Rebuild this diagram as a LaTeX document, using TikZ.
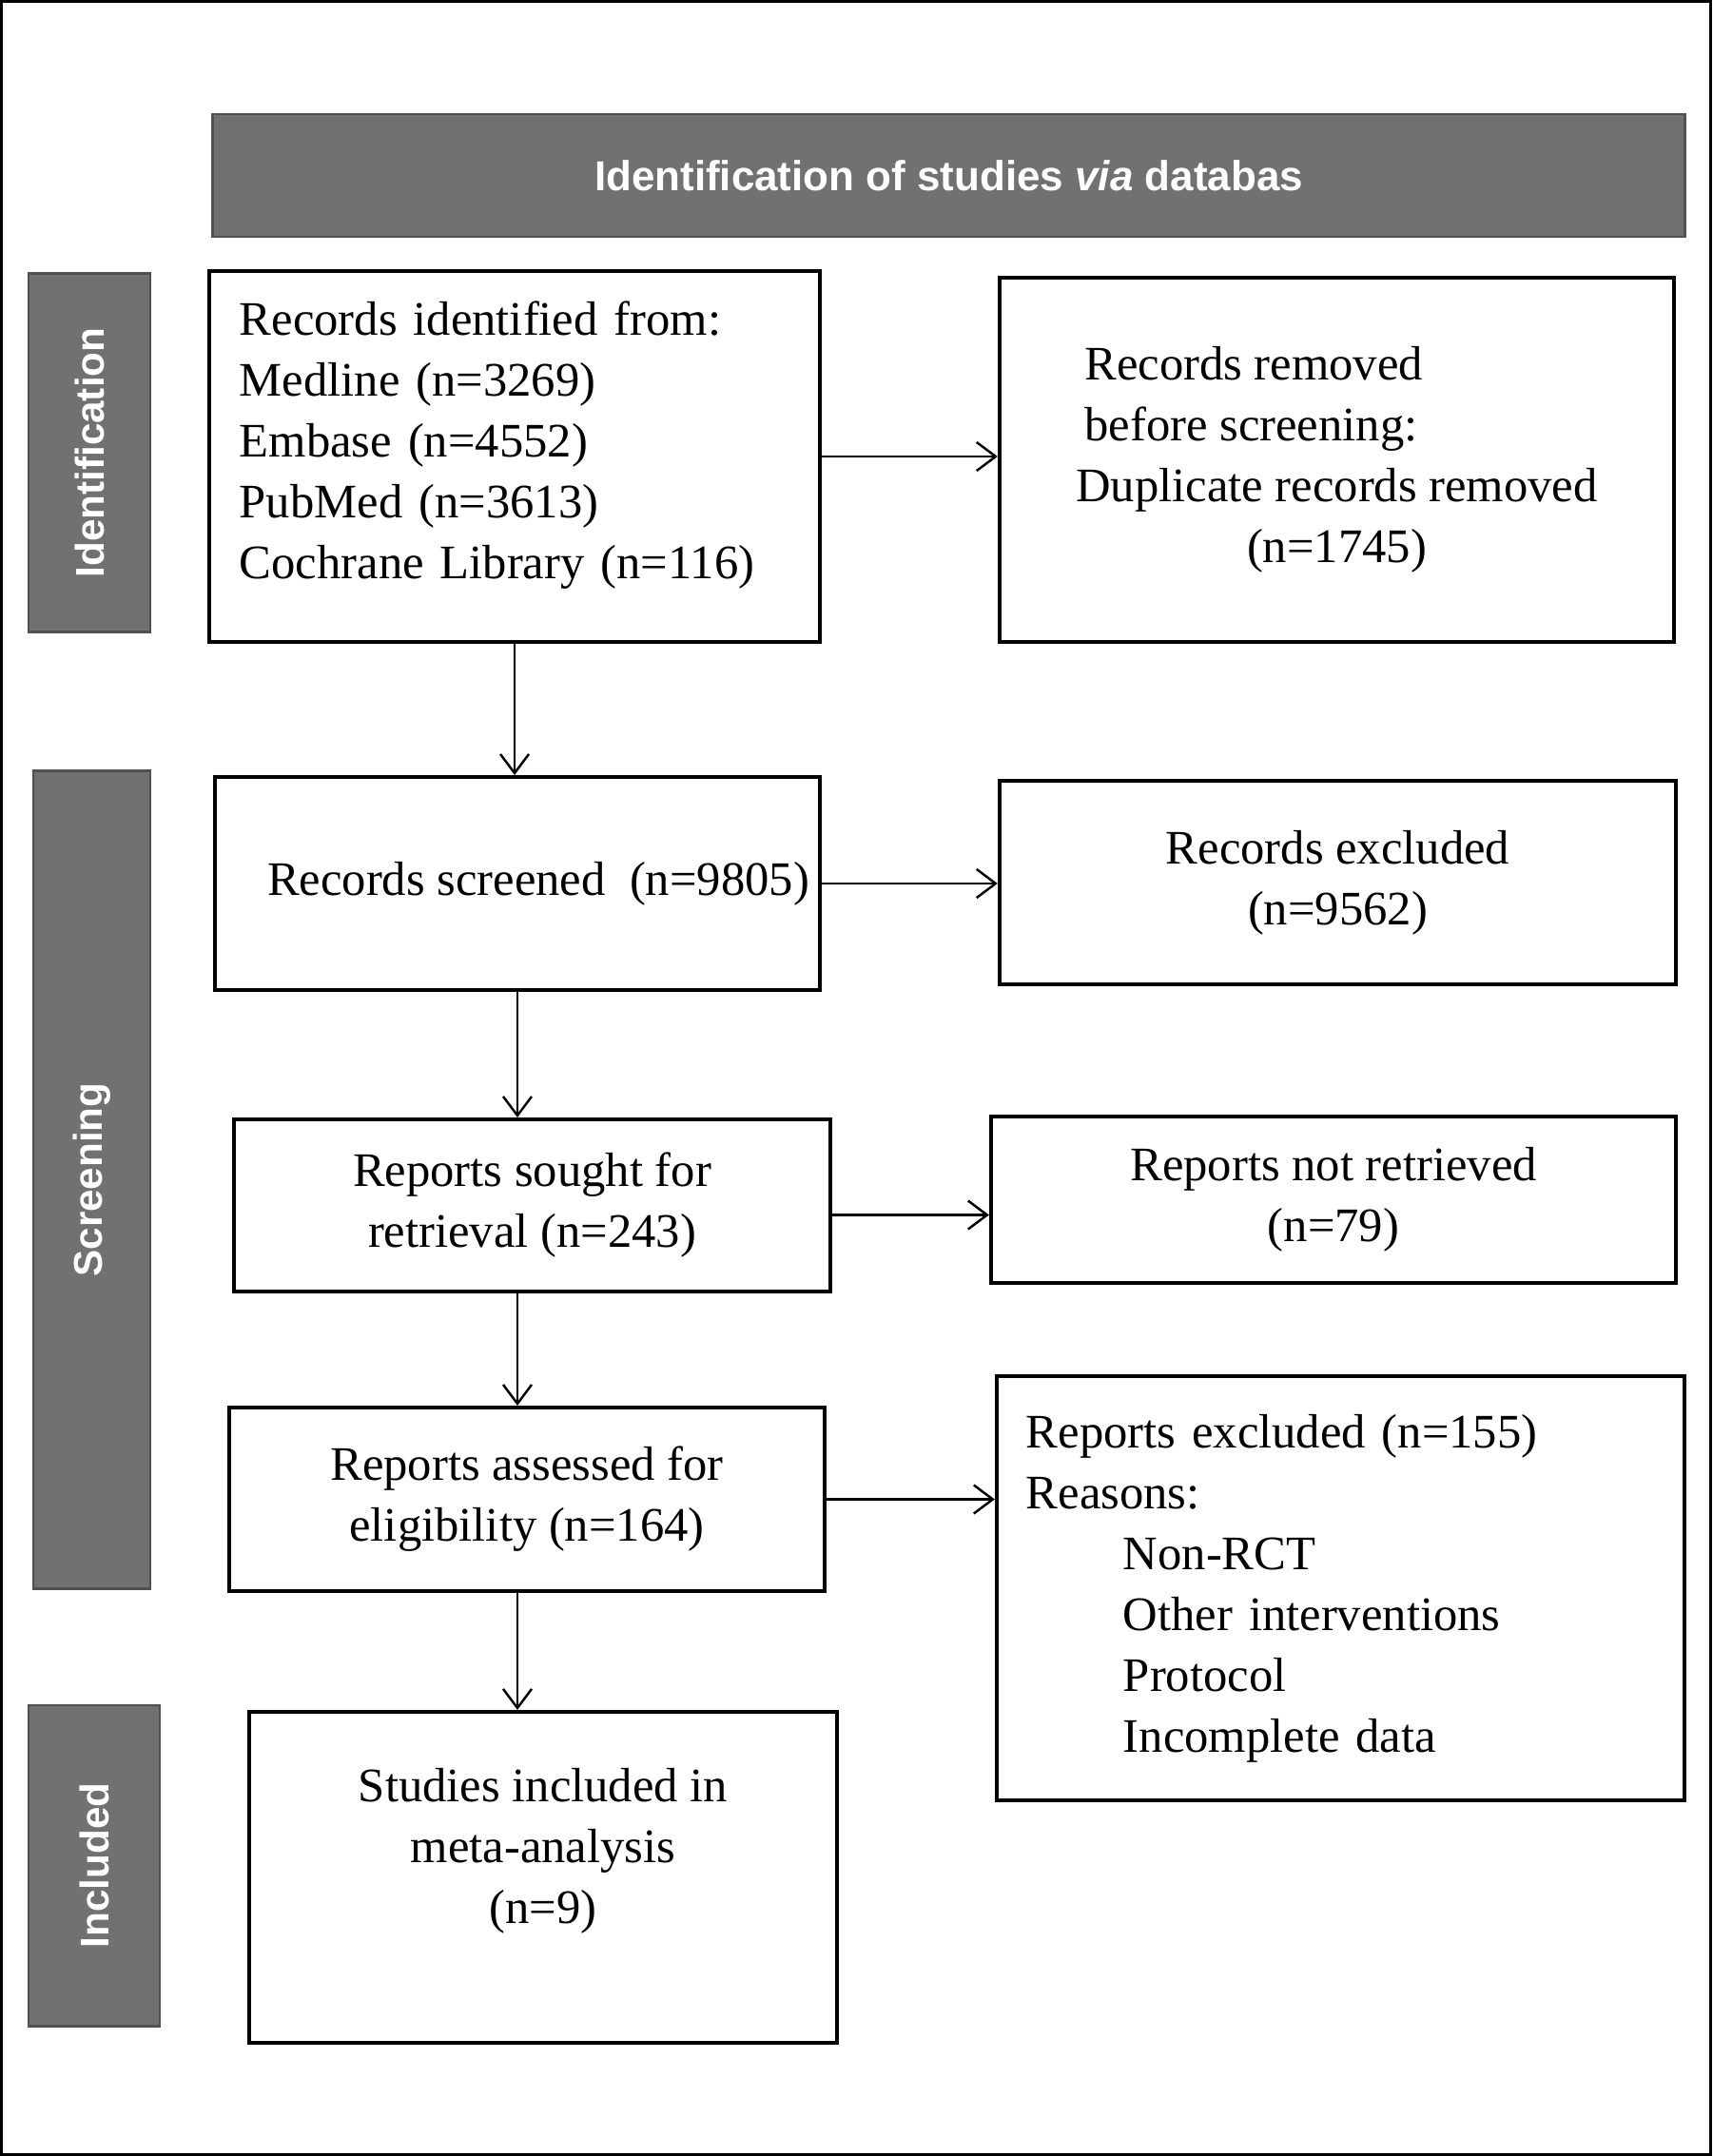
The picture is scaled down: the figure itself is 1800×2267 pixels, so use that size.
\documentclass[tikz,border=0pt]{standalone}
\usepackage{fontspec}
\setmainfont{Liberation Serif}
\newfontfamily\bandfont{Liberation Sans}
\usetikzlibrary{arrows.meta, positioning}
\definecolor{bandgray}{HTML}{717171}
\definecolor{bandedge}{HTML}{505050}
\tikzset{
  flowbox/.style={draw=black, line width=1.1pt, inner sep=0pt, align=center,
    font=\fontsize{14.4}{18.2}\selectfont},
  band/.style={fill=bandgray, draw=bandedge, line width=0.8pt, inner sep=0pt,
    text=white, font=\bandfont\bfseries\fontsize{12}{14}\selectfont},
  flowarrow/.style={line width=0.7pt, -{Straight Barb[length=0.2cm, width=0.3cm]}}
}
\begin{document}
\begin{tikzpicture}[x=0.01cm, y=-0.01cm]
\useasboundingbox (0,0) rectangle (1800,2267);
\draw[line width=0.9pt] (1.5,1.5) rectangle (1798.5,2265.5);

\node[band, minimum width=15.47cm, minimum height=1.29cm, font=\bandfont\bfseries\fontsize{12.5}{14}\selectfont] (title) at (997.5,184.5) {Identification of studies \textit{via} databas};
\node[band, rotate=90, minimum width=3.76cm, minimum height=1.28cm] (idband) at (94,476) {Identification};
\node[band, rotate=90, minimum width=8.59cm, minimum height=1.23cm] (scrband) at (96.5,1240.5) {Screening};
\node[band, rotate=90, minimum width=3.37cm, minimum height=1.38cm] (incband) at (99,1961.5) {Included};

\node[flowbox, minimum width=6.42cm, minimum height=3.90cm, text width=5.78cm, align=left] (recid) at (541,480) {Records identified from:\\ Medline (n=3269)\\ Embase (n=4552)\\ PubMed (n=3613)\\ Cochrane Library (n=116)\\[-8.4pt]\mbox{}};
\node[flowbox, minimum width=6.36cm, minimum height=2.24cm] (recscr) at (544,929) {\hspace*{0.44cm}Records screened~~(n=9805)};
\node[flowbox, minimum width=6.27cm, minimum height=1.81cm] (sought) at (559.5,1267.5) {Reports sought for\\ retrieval (n=243)};
\node[flowbox, minimum width=6.26cm, minimum height=1.93cm] (assess) at (554,1576.5) {Reports assessed for\\ eligibility (n=164)};
\node[flowbox, minimum width=6.18cm, minimum height=3.48cm, text depth=19pt] (incl) at (571,1974) {Studies included in\\ meta-analysis\\ (n=9)};

\node[flowbox, minimum width=7.09cm, minimum height=3.83cm] (removed) at (1405.5,483.5) {\makebox[5.3cm][l]{Records removed}\\ \makebox[5.3cm][l]{before screening:}\\ Duplicate records removed\\ (n=1745)};
\node[flowbox, minimum width=7.11cm, minimum height=2.14cm] (recexc) at (1406.5,928) {Records excluded\\ (n=9562)};
\node[flowbox, minimum width=7.20cm, minimum height=1.75cm] (notret) at (1402,1261.5) {Reports not retrieved\\ (n=79)};
\node[flowbox, minimum width=7.23cm, minimum height=4.46cm, text width=6.61cm, align=left] (repexc) at (1409.5,1670) {Reports excluded (n=155)\\ Reasons:\\ \hspace*{1.02cm}Non-RCT\\ \hspace*{1.02cm}Other interventions\\ \hspace*{1.02cm}Protocol\\ \hspace*{1.02cm}Incomplete data};

\draw[flowarrow] (recid.south) -- (recid.south |- recscr.north);
\draw[flowarrow] (recscr.south) -- (recscr.south |- sought.north);
\draw[flowarrow] (recscr.south |- sought.south) -- (recscr.south |- assess.north);
\draw[flowarrow] (recscr.south |- assess.south) -- (recscr.south |- incl.north);
\draw[flowarrow] (recid.east) -- (recid.east -| removed.west);
\draw[flowarrow] (recscr.east) -- (recscr.east -| recexc.west);
\draw[flowarrow] ([yshift=-0.1cm]sought.east) -- ([yshift=-0.1cm]sought.east -| notret.west);
\draw[flowarrow] (assess.east) -- (assess.east -| repexc.west);
\end{tikzpicture}
\end{document}
